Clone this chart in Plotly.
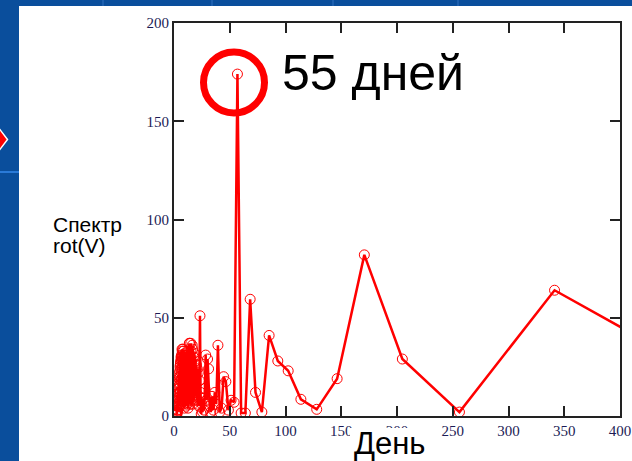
import plotly.graph_objects as go

# ---- data ----
period = [512, 341.3, 256, 204.8, 170.7, 146.3, 128, 113.8, 102.4, 93.1,
          85.3, 78.8, 73.1, 68.3, 64.0, 60.2, 56.9, 53.9, 51.2, 48.8,
          46.5, 44.5, 42.7, 41.0, 39.4, 37.9, 36.6, 35.3, 34.1, 33.0,
          32.0, 31.0, 30.1, 29.3, 28.4, 27.7, 26.9, 26.3, 25.6, 25.0,
          24.4, 23.8, 23.3, 22.8, 22.3, 21.8, 21.3, 20.9, 20.5, 20.1,
          19.7, 19.3, 19.0, 18.6, 18.3, 18.0, 17.7, 17.3, 17.1, 16.8,
          16.5, 16.3, 16.0, 15.8, 15.5, 15.3, 15.1, 14.8, 14.6, 14.4,
          14.2, 14.0, 13.8, 13.7, 13.5, 13.3, 13.1, 13.0, 12.8, 12.6,
          12.5, 12.3, 12.2, 12.0, 11.9, 11.8, 11.6, 11.5, 11.4, 11.2,
          11.1, 11.0, 10.9, 10.8, 10.7, 10.6, 10.4, 10.3, 10.2, 10.1,
          10.0, 9.9, 9.8, 9.6, 9.5, 9.4, 9.3, 9.2, 9.1, 9.0,
          8.9, 8.8, 8.7, 8.6, 8.5, 8.4, 8.3, 8.2, 8.1, 8.0,
          7.9, 7.8, 7.7, 7.6, 7.5, 7.4, 7.3, 7.2, 7.1, 7.0,
          6.9, 6.8, 6.7, 6.6, 6.5, 6.4, 6.3, 6.2, 6.1, 6.0,
          5.9, 5.8, 5.7, 5.6, 5.5, 5.4, 5.3, 5.2, 5.1, 5.0,
          4.9, 4.8, 4.7, 4.6, 4.5, 4.4, 4.3, 4.2, 4.1, 4.0,
          3.9, 3.8, 3.7, 3.6, 3.5, 3.4, 3.3, 3.2, 3.1, 3.0,
          2.9, 2.8, 2.7, 2.6, 2.5, 2.4, 2.3, 2.2, 2.1, 2.0]

spectrum = [10, 64, 2, 29, 82, 19, 3.4, 8.5, 23, 28,
            41, 2, 12, 59.4, 1.5, 1.5, 174, 7, 8, 3,
            17.5, 20, 4, 2, 36, 6, 12, 3, 10, 2,
            5, 24, 29, 8, 31, 14, 3, 9, 2, 6,
            1, 12, 51, 18, 5, 22, 6, 24, 8, 26,
            12, 28, 10, 30, 14, 32, 8, 30, 12, 34,
            6, 36, 14, 28, 8, 33, 37, 12, 25, 6,
            30, 37, 15, 37, 20, 8, 28, 18, 32, 4,
            22, 30, 12, 26, 33, 6, 20, 28, 14, 31,
            8, 24, 30, 16, 22, 5, 27, 32, 12, 25,
            29, 9, 18, 30, 22, 4, 26, 31, 14, 24,
            29, 10, 20, 33, 17, 27, 6, 22, 31, 34,
            12, 26, 30, 8, 24, 33, 18, 34, 28, 14,
            30, 22, 31, 10, 29, 18, 30, 24, 8, 28,
            20, 27, 12, 26, 18, 25, 6, 23, 16, 22,
            12, 20, 8, 19, 14, 17, 5, 15, 11, 14,
            6, 12, 9, 11, 3, 9, 6, 8, 2, 6,
            3, 5, 1, 3, 2, 2, 1, 1, 0.5, 0.3]

x_ticks = [0, 50, 100, 150, 200, 250, 300, 350, 400]
y_ticks = [0, 50, 100, 150, 200]

# ---- layout geometry (pixels) ----
W, H = 632, 461
ML, MR, MT, MB = 174, 12, 23, 45
PW, PH = W - ML - MR, H - MT - MB


def px(x):
    return (x - ML) / PW


def py(y):
    return (H - MB - y) / PH


RED = "#ff0000"
BLUE = "#0a4e9c"

fig = go.Figure()
fig.add_trace(go.Scatter(
    x=period, y=spectrum, mode="lines+markers",
    line=dict(color=RED, width=2.5),
    marker=dict(symbol="circle-open", size=10, color=RED, line=dict(width=1, color=RED)),
    cliponaxis=True, showlegend=False,
))

tickfont = dict(family="Liberation Serif", size=15, color="#1c1c55")
axis_common = dict(
    showgrid=False, zeroline=False, showline=True, linecolor="#222222", linewidth=2,
    mirror="ticks", ticks="inside", ticklen=10, tickwidth=1.5, tickcolor="#222222",
    tickfont=tickfont, fixedrange=True, automargin=False,
)
fig.update_xaxes(range=[0, 400], tickvals=x_ticks, ticktext=[str(v) for v in x_ticks], **axis_common)
fig.update_yaxes(range=[0, 200], tickvals=y_ticks, ticktext=[str(v) for v in y_ticks], **axis_common)

shapes = []
# blue slide background strips
shapes.append(dict(type="rect", xref="paper", yref="paper", x0=px(0), x1=px(19), y0=py(0), y1=py(H),
                   fillcolor=BLUE, line=dict(width=0), layer="above"))
shapes.append(dict(type="rect", xref="paper", yref="paper", x0=px(0), x1=px(W), y0=py(0), y1=py(6),
                   fillcolor=BLUE, line=dict(width=0), layer="above"))
for sx in [103, 212, 333, 458]:
    shapes.append(dict(type="line", xref="paper", yref="paper", x0=px(sx), x1=px(sx), y0=py(0), y1=py(6),
                       line=dict(color="#2466b4", width=1.5), layer="above"))
shapes.append(dict(type="line", xref="paper", yref="paper", x0=px(0), x1=px(19), y0=py(172), y1=py(172),
                   line=dict(color="#2a7ad8", width=2), layer="above"))
# red arrow tip on the left strip
shapes.append(dict(type="path", xref="paper", yref="paper",
                   path=f"M {px(-2)},{py(127)} L {px(7.5)},{py(139.5)} L {px(-2)},{py(152)} Z",
                   fillcolor=RED, line=dict(color="white", width=1.5), layer="above"))
# red ring around the peak
shapes.append(dict(type="circle", xref="paper", yref="paper",
                   x0=px(203.5), x1=px(264.5), y0=py(113), y1=py(52),
                   line=dict(color=RED, width=7), layer="above"))
# white box under the x-axis title (hides part of the "200" label)
shapes.append(dict(type="rect", xref="paper", yref="paper", x0=px(350), x1=px(432), y0=py(461), y1=py(428),
                   fillcolor="white", line=dict(width=0), layer="above"))

annotations = [
    dict(text="55 дней", xref="paper", yref="paper", x=px(280), y=py(73), xanchor="left", yanchor="middle",
         showarrow=False, font=dict(family="Liberation Sans", size=50, color="black"), bgcolor="white"),
    dict(text="День", xref="paper", yref="paper", x=px(390), y=py(443), xanchor="center", yanchor="middle",
         showarrow=False, font=dict(family="Liberation Sans", size=31, color="black")),
    dict(text="Спектр", xref="paper", yref="paper", x=px(51), y=py(224), xanchor="left", yanchor="middle",
         showarrow=False, font=dict(family="Liberation Sans", size=21, color="black")),
    dict(text="rot(V)", xref="paper", yref="paper", x=px(51), y=py(245), xanchor="left", yanchor="middle",
         showarrow=False, font=dict(family="Liberation Sans", size=21, color="black")),
]

fig.update_layout(
    width=W, height=H, margin=dict(l=ML, r=MR, t=MT, b=MB, pad=0, autoexpand=False),
    paper_bgcolor="white", plot_bgcolor="white",
    shapes=shapes, annotations=annotations, showlegend=False,
)

fig.write_html(
    "out.html",
    config={"displayModeBar": False},
    post_script="document.body.style.margin='0';document.body.style.padding='0';"
                "document.body.style.overflow='hidden';",
)
